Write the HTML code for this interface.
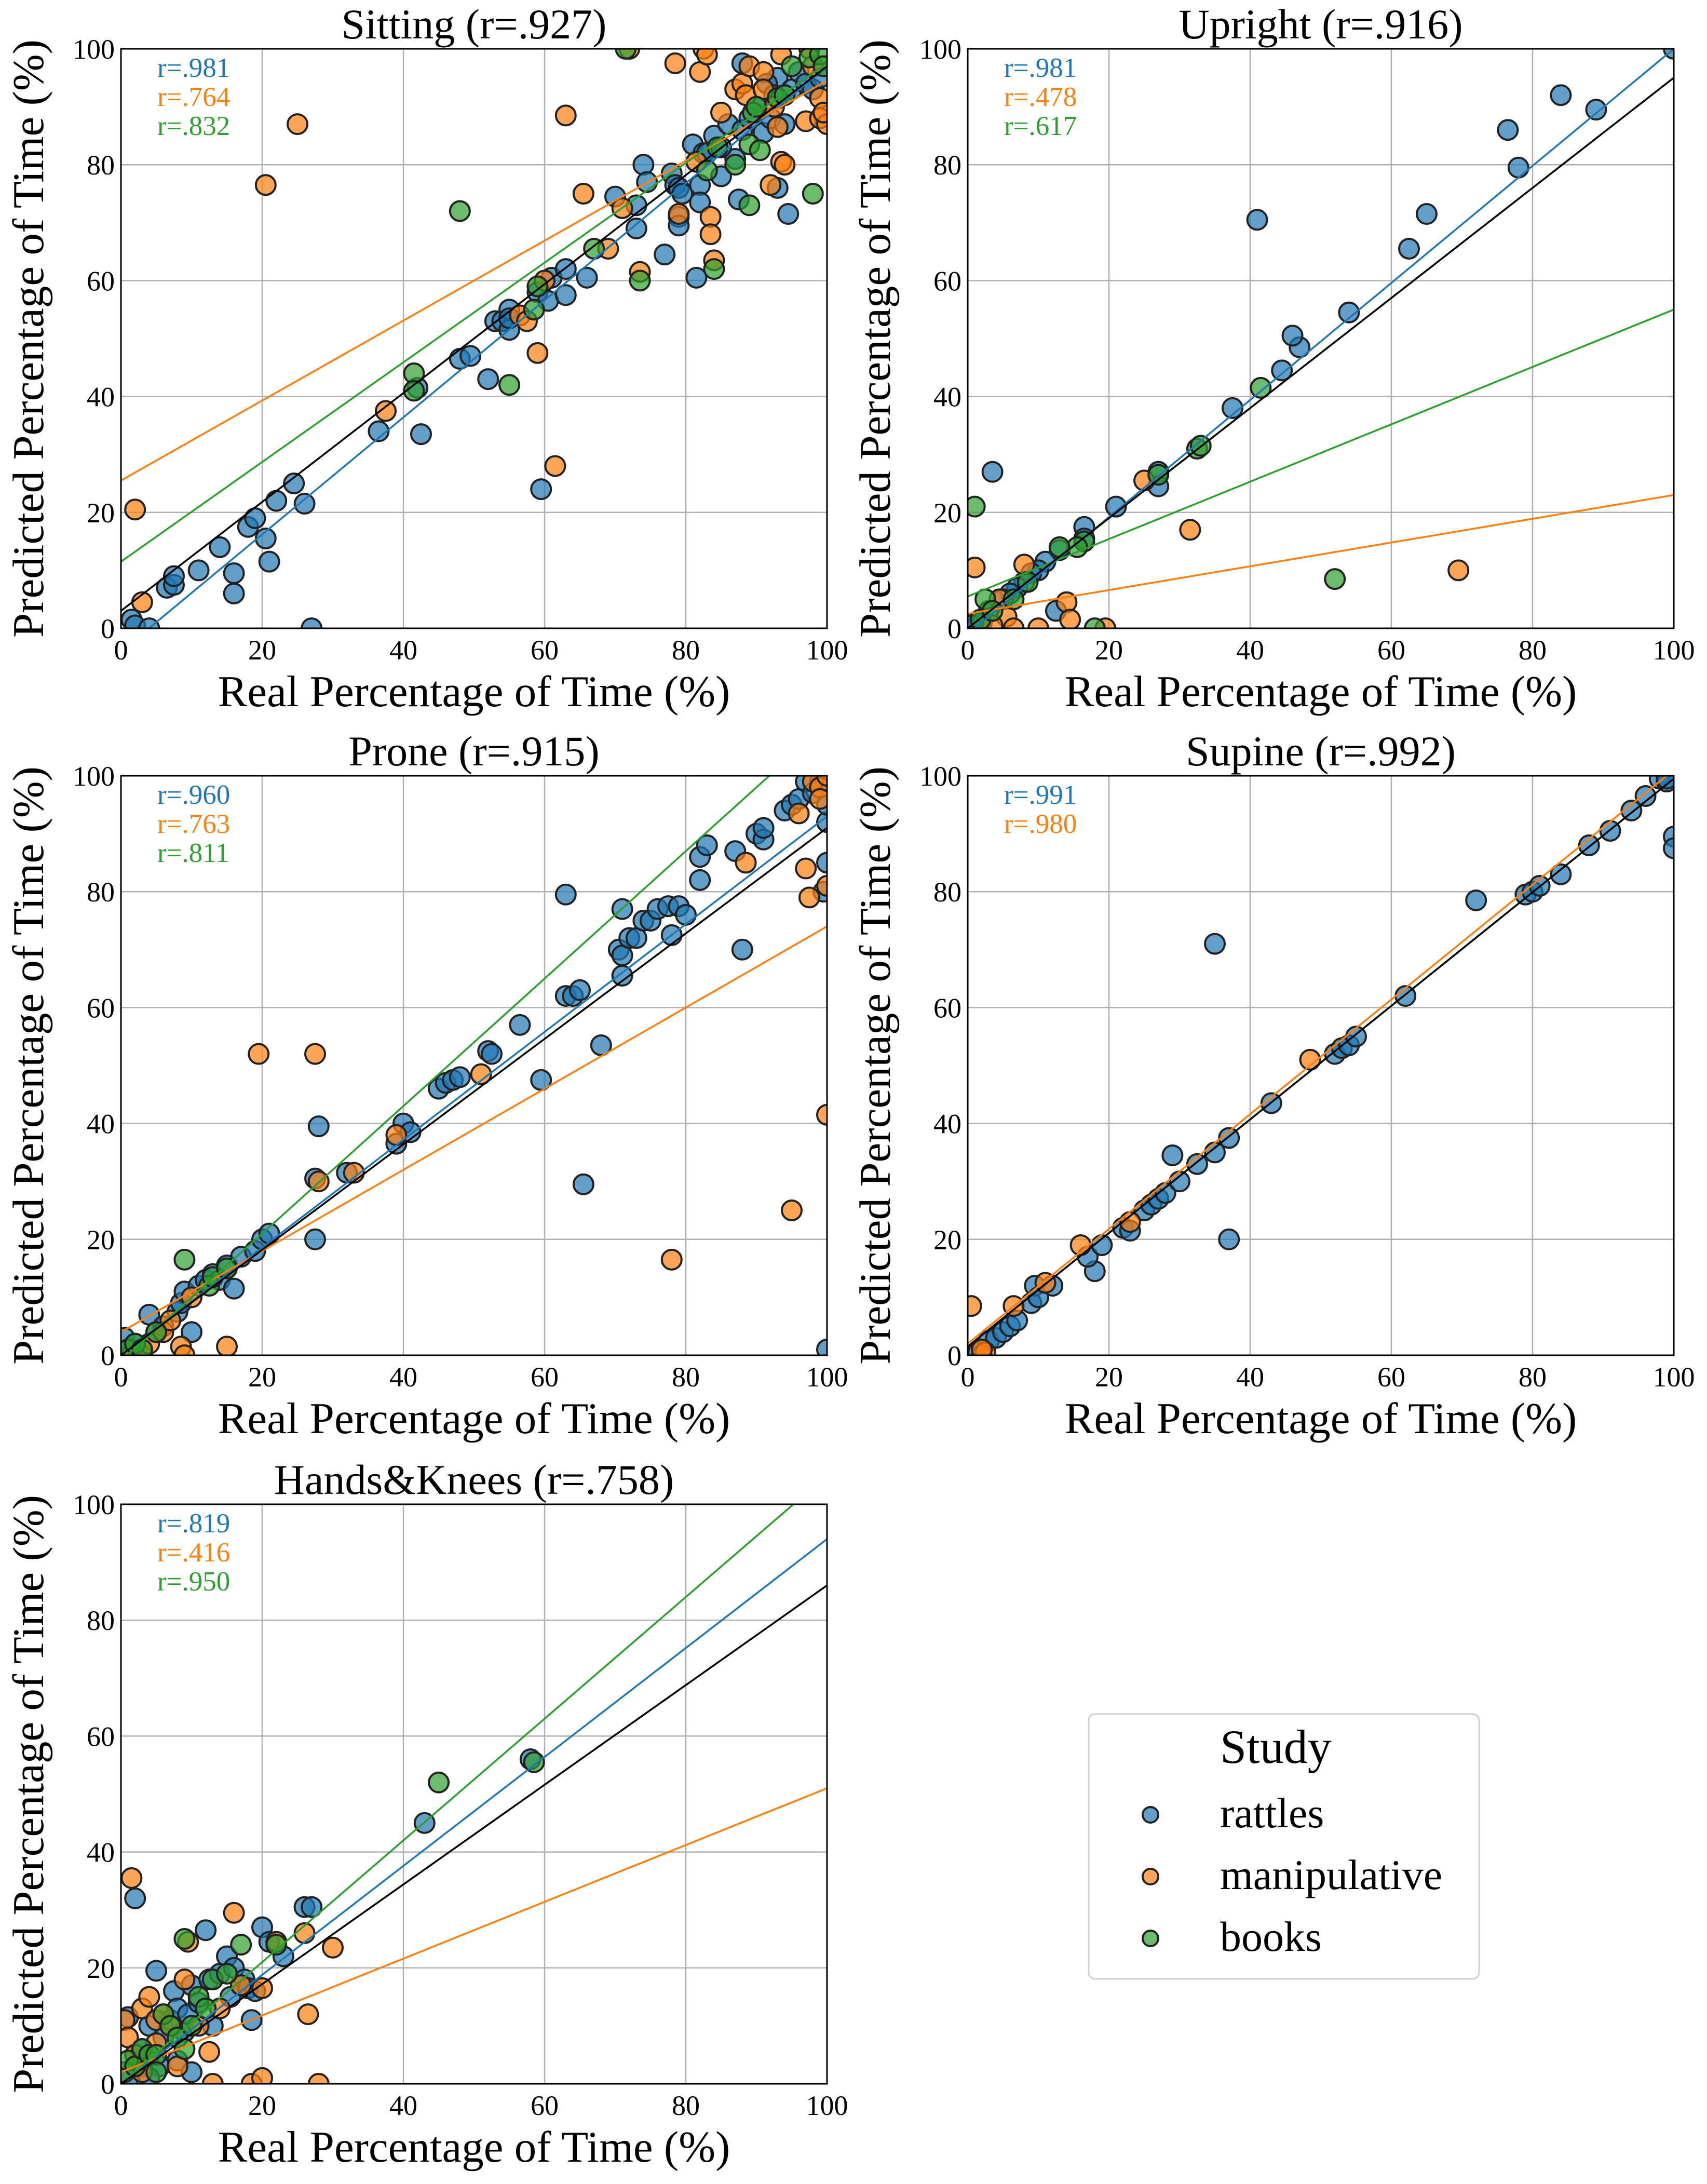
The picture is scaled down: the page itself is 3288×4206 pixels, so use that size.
<!DOCTYPE html>
<html><head><meta charset="utf-8"><style>
html,body{margin:0;padding:0;background:#fff;}
svg{display:block;font-family:"Liberation Serif",serif;}
</style></head><body>
<svg id="fig" width="3288" height="4206" viewBox="0 0 3288 4206" xmlns="http://www.w3.org/2000/svg"></svg>
<script>
const NS="http://www.w3.org/2000/svg";
const ticks=[0,20,40,60,80,100];
const tickLabels=["0","20","40","60","80","100"];
const colors={rattles:"#1f77b4",manipulative:"#ff7f0e",books:"#2ca02c"};

// Panel titles and r values
const panelTitles=["Sitting (r=.927)","Upright (r=.916)","Prone (r=.915)","Supine (r=.992)","Hands&Knees (r=.758)"];
const panelR=[["r=.981","r=.764","r=.832"],["r=.981","r=.478","r=.617"],["r=.960","r=.763","r=.811"],["r=.991","r=.980"],["r=.819","r=.416","r=.950"]];
// regression lines [intercept, slope] : rattles, manipulative, books, overall
const lineRattles=[[-4,1.01],[-1,1.01],[0,0.93],[1.5,0.98],[0,0.94]];
const lineManip=[[25.5,0.69],[2.5,0.205],[4,0.70],[2,0.99],[2,0.49]];
const lineBooks=[[11.5,0.86],[5.5,0.495],[-1,1.1],null,[0,1.05]];
const lineAll=[[3,0.94],[0,0.95],[0,0.91],[1.5,0.98],[0,0.86]];

// scatter data per panel: x (real) and y (predicted)
const sitRatX=[1.5,2,4,6.5,7.5,7.5,11,14,16,16,18,19,20.5,21,22,24.5,26,27,36.5,42,42.5,48,49.5,52,53,54,55,55,55,59,59.5,60.5,61,63,63,66,70,73,73,74,74.5,77,78,78.5,79,79,79,79.5,81,81.5,82,82,82.5,83,84,85,86,87,87.5,88,89,90,91,92,93,93,94,94.5,95,96,97,98,99,88,91.5,92.5,85];
const sitRatY=[1.5,0.5,0,7,7.5,9,10,14,9.5,6,17.5,19,15.5,11.5,22,25,21.5,0,34,41.5,33.5,46.5,47,43,53,53,55,51.5,53.5,58,24,56.5,60.5,62,57.5,60.5,74.5,73,69,80,77,64.5,78.5,76.5,71,69.5,76,75,83.5,60.5,76.5,73.5,82,82,85,78,87,81,74,86,88,90,85.5,88,76,95,87,71.5,93,96,94,93,95,97.5,94,92,83];
const sitManX=[2,3,20.5,25,37.5,56.5,57.5,59,60,61.5,63,65.5,69,71,72,73.5,78.5,79,81.5,82,82.5,83,83.5,83.5,84,85,87,88,88.5,89,91,91,92,92.5,93,93.5,94,93.5,97,97.5,98,99,99,100,99.5];
const sitManY=[20.5,4.5,76.5,87,37.5,54,53,47.5,60,28,88.5,75,65.5,72.5,100,61.5,97.5,71.5,80.5,96,100,99,71,68,63.5,89,93,94,92,97,96,93,76.5,90,86.5,80.5,80,99,87.5,100,97,91.5,88,87,89];
const sitBooX=[41.5,41.5,48,55,58.5,59,67,71.5,73.5,83,84,84.5,87,89,89,89.5,90,90.5,93,94,95,97.5,98,99,99.5];
const sitBooY=[44,41,72,42,55,59,65.5,100,60,79,62,83,80,73,83.5,89,90,82.5,91.5,92,97,98.5,75,99,97];

const upRatX=[100,84,89,76.5,78,65,62.5,54,47,46,44.5,41,37.5,27,27,21,16.5,16.5,13,11,10,9,8,7,6,5,3.5,3,1,0.5,12.5,2];
const upRatY=[100,92,89.5,86,79.5,71.5,65.5,54.5,48.5,50.5,44.5,70.5,38,27,24.5,21,17.5,15.5,13.5,11.5,10,9.5,8,7,6,5,27,3,1,0.5,3,1];
const upManX=[1,31.5,69.5,25,8,10,14,14.5,5.5,6.5,19.5,3.5,4.5];
const upManY=[10.5,17,10,25.5,11,0,4.5,1.5,2,0,0,0.5,5];
const upBooX=[1,2.5,1.8,32.5,33,27,41.5,52,18,16.5,15.5,13,8.5,6.5,3.5];
const upBooY=[21,5,1.5,31,31.5,26.5,41.5,8.5,0,15,14,14,8,5,3];

const prRatX=[0.5,1,2,3,4,5,6,8,8.5,9,10,11,12,13,14,15,16,17,19,20,21,27.5,28,27.5,32,39,40,41,45,46,47,48,52,52.5,56.5,59.5,63,63,64,65,65.5,68,70.5,71,71,71,72,73,74,75,76,77.5,78,79,80,82,82,83,87,88,90,91,91,94,95,96,97,98,99,100,100,100,100,99.5];
const prRatY=[3,1,2,0,7,4,5,7.5,9,11,4,12,13,14,13,15.5,11.5,17,18,20,21,20,39.5,30.5,31.5,36.5,40,38.5,46,47,47.5,48,52.5,52,57,47.5,62,79.5,62,63,29.5,53.5,70,65.5,69,77,72,72,75,75,77,77.5,72.5,77.5,76,86,82,88,87,70,90,89,91,94,95,96,99,97,99,92,95,85,1,80];
const prManX=[1.5,3,4,6,7,8.5,9,10,15,19.5,27.5,28,33,39,51,78,88.5,95,96,97,97.5,98,99,100,100,100,99];
const prManY=[0,0,2,4,6,1.5,0,10,1.5,52,52,30,31.5,38,48.5,16.5,85,25,93.5,84,79,99,98,100,81,41.5,96];
const prBooX=[1,2,9,12.5,13,15,5,3];
const prBooY=[1,2,16.5,12,13.5,15,4,1];

const suRatX=[1.5,2,3,4,5,6,7,9,9.5,10,12,18,17,19,22,23,25,26,27,28,29,30,32.5,35,35,37,37,43,52,53,54,55,62,72,79,80,81,84,88,91,94,96,98,99,100,100,99];
const suRatY=[0.5,1,2.5,3,4,5,6,9,12,10,12,14.5,17,19,22,21.5,25,26,27,28,34.5,30,33,71,35,37.5,20,43.5,52,53,53.5,55,62,78.5,79.5,80,81,83,88,90.5,94,96.5,99.5,99,89.5,87.5,99.5];
const suManX=[0.5,2,2.5,6.5,11,16,23,48.5,2];
const suManY=[8.5,0,0.5,8.5,12.5,19,23,51,1];

const hkRatX=[1,2,3,4,5,5.5,6,7,7.5,8,9,9.5,10,11,12,12.5,13,14,15,15.5,16,17,17.5,18,18.5,19,20,21,23,26,27,43,58,2,3,4,1,8,10];
const hkRatY=[11.5,32,6,10,19.5,3,8,11,16,13,9,12,17,14,26.5,18,10,19,22,15,20,17,18,16.5,11,16,27,24.5,22,30.5,30.5,45,56,5,3,1,1,4,2];
const hkManX=[1.5,0.5,1,2,3,4,5,6,7,8,9,9.5,11,12.5,13,14,16,17,18.5,20,20,22,26,26.5,28,30,3,5];
const hkManY=[35.5,11,8,5,13,15,11,12,10,3,18,24.5,10,5.5,0,13,29.5,17,0,1,16.5,24.5,26,12,0,23.5,2,7];
const hkBooX=[0.5,1,2,3,4,5,6,7,8,9,10,11,12,13,15,17,22,45,58.5,5,9];
const hkBooY=[2,4,3,6,5,5,12,10,8,25,10,15,13,18,19,24,24,52,55.5,2,6];

const panelRat=[[sitRatX,sitRatY],[upRatX,upRatY],[prRatX,prRatY],[suRatX,suRatY],[hkRatX,hkRatY]];
const panelMan=[[sitManX,sitManY],[upManX,upManY],[prManX,prManY],[suManX,suManY],[hkManX,hkManY]];
const panelBoo=[[sitBooX,sitBooY],[upBooX,upBooY],[prBooX,prBooY],null,[hkBooX,hkBooY]];

const svg=document.getElementById('fig');
function mk(tag,attrs,parent){const e=document.createElementNS(NS,tag);for(const k in attrs)e.setAttribute(k,attrs[k]);(parent||svg).appendChild(e);return e;}

const boxes=[[233,94],[1864,94],[233,1494],[1864,1494],[233,2897]];
const W=1360,H=1116;

boxes.forEach((b,i)=>{
  const L=b[0],T=b[1];
  const sx=v=>L+v/100*W;
  const sy=v=>T+H-v/100*H;
  const g=mk('g',{});
  
  
  const cid='clip'+i;
  const cp=mk('clipPath',{id:cid},g);mk('rect',{x:L,y:T,width:W,height:H},cp);
  ticks.forEach((t,k)=>{
    const gx=mk('line',{x1:sx(t),x2:sx(t),y1:T,y2:T+H,stroke:'#b0b0b0','stroke-width':2.5},g);
    
    
    const gy=mk('line',{x1:L,x2:L+W,y1:sy(t),y2:sy(t),stroke:'#b0b0b0','stroke-width':2.5},g);
    
    
    const tx=mk('text',{x:sx(t),y:T+H+60,'text-anchor':'middle','font-size':54},g);tx.textContent=tickLabels[k];
    
    
    const ty=mk('text',{x:L-12,y:sy(t)+19,'text-anchor':'end','font-size':54},g);ty.textContent=tickLabels[k];
    
    
  });
  const cg=mk('g',{'clip-path':'url(#'+cid+')'},g);
  function drawPts(pair,col,name){
    if(!pair)return;
    pair[0].forEach((x,j)=>{
      const c=mk('circle',{cx:sx(x),cy:sy(pair[1][j]),r:19,fill:col,'fill-opacity':0.7,stroke:'#222','stroke-width':4},cg);
      
      
    });
  }
  drawPts(panelRat[i],colors.rattles,'rattles');
  drawPts(panelMan[i],colors.manipulative,'manipulative');
  drawPts(panelBoo[i],colors.books,'books');
  function drawLine(p,col,name){
    if(!p)return;
    const l=mk('line',{x1:sx(0),y1:sy(p[0]),x2:sx(100),y2:sy(p[0]+p[1]*100),stroke:col,'stroke-width':3.5},cg);
    
    
  }
  drawLine(lineRattles[i],colors.rattles,'rattles-fit-line');
  drawLine(lineManip[i],colors.manipulative,'manipulative-fit-line');
  drawLine(lineBooks[i],colors.books,'books-fit-line');
  drawLine(lineAll[i],'#000','overall-fit-line');
  const fr=mk('rect',{x:L,y:T,width:W,height:H,fill:'none',stroke:'#000','stroke-width':3},g);
  
  
  const rc=[colors.rattles,colors.manipulative,colors.books];
  panelR[i].forEach((s,k)=>{
    const t=mk('text',{x:L+70,y:T+54+k*56,'font-size':53,fill:rc[k]},g);t.textContent=s;
    
    
  });
  const tt=mk('text',{x:L+W/2,y:T-20,'text-anchor':'middle','font-size':82},g);tt.textContent=panelTitles[i];
  
  
  const xl=mk('text',{x:L+W/2,y:T+H+150,'text-anchor':'middle','font-size':85},g);xl.textContent='Real Percentage of Time (%)';
  
  
  const yl=mk('text',{x:0,y:0,'text-anchor':'middle','font-size':85,transform:'translate('+(L-150)+','+(T+H/2)+') rotate(-90)'},g);yl.textContent='Predicted Percentage of Time (%)';
  
  
});

// legend
const legendLabels=["rattles","manipulative","books"];
const lg=mk('g',{});


const lb=mk('rect',{x:2097,y:3301,width:752,height:510,rx:12,fill:'#fff',stroke:'#d0d0d0','stroke-width':3},lg);


const lt=mk('text',{x:2350,y:3395,'font-size':92},lg);lt.textContent='Study';


legendLabels.forEach((s,k)=>{
  const y=3495+k*119;
  const c=mk('circle',{cx:2216,cy:y,r:15,fill:colors[s],'fill-opacity':0.7,stroke:'#222','stroke-width':4},lg);
  
  
  const t=mk('text',{x:2350,y:y+24,'font-size':82},lg);t.textContent=s;
  
  
});
</script>
</body></html>
